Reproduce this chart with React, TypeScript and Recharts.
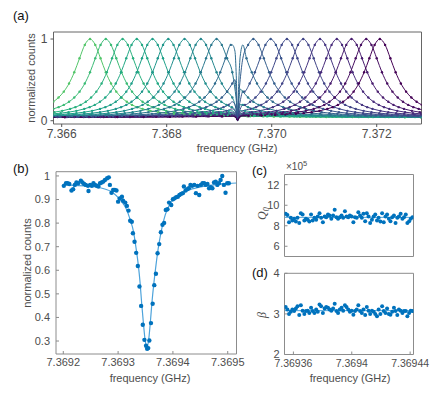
import React from 'react';
import { ComposedChart, Line, Scatter, XAxis, YAxis, ReferenceArea } from 'recharts';

const FONT = '"Liberation Sans", Arial, sans-serif';
const TICK = '#4d4d4d';
const FRAME = '#8c8c8c';
const BLUE = '#0072BD';
const FIT = '#4da3db';

// (a) frequency sweep, x in MHz above 7.366 GHz
const peakCenters = [0.54, 0.84, 1.16, 1.43, 1.73, 2.03, 2.34, 2.65, 2.95, 3.32, 3.65, 3.98, 4.29, 4.6, 4.92, 5.24, 5.52, 5.8, 6.06];
const peakColors = [
  '#52c569', '#3bbb75', '#2ab07f', '#22a884', '#1fa088', '#1f968b', '#218e8d', '#24868e', '#2a788e', '#2f6c8e',
  '#355f8d', '#3a548c', '#3f4889', '#414487', '#453581', '#472a7a', '#481c6e', '#470e61', '#440154',
];
const profileOffsets = [
  -7, -6, -5, -4.5, -4, -3.5, -3, -2.75, -2.5, -2.25, -2, -1.8, -1.6, -1.45, -1.3, -1.15, -1, -0.9, -0.8, -0.7, -0.6, -0.5, -0.4, -0.3, -0.2, -0.1,
  0, 0.1, 0.2, 0.3, 0.4, 0.5, 0.6, 0.7, 0.8, 0.9, 1, 1.15, 1.3, 1.45, 1.6, 1.8, 2, 2.25, 2.5, 2.75, 3, 3.5, 4, 4.5, 5, 6, 7,
];
const profileCounts = [
  0.042, 0.043, 0.045, 0.046, 0.047, 0.05, 0.053, 0.055, 0.058, 0.063, 0.069, 0.075, 0.084, 0.093, 0.105, 0.121, 0.145, 0.166, 0.194, 0.232, 0.284, 0.356, 0.456, 0.593, 0.764, 0.928,
  1, 0.928, 0.764, 0.593, 0.456, 0.356, 0.284, 0.232, 0.194, 0.166, 0.145, 0.121, 0.105, 0.093, 0.084, 0.075, 0.069, 0.063, 0.058, 0.055, 0.053, 0.05, 0.047, 0.046, 0.045, 0.043, 0.042,
];
const dipCenter = 3.35;
const dipOffsets = [-0.1, -0.05, -0.025, 0, 0.025, 0.05, 0.1];
const dipFactors = [1, 0.85, 0.55, 0.04, 0.55, 0.85, 1];
const aTicks = [0, 2, 4, 6];

// (b) single dip, x in kHz above 7.3692 GHz
const bFreq = [1, 5, 8, 11, 15, 18, 21, 24, 27, 32, 35, 38, 41, 45, 46, 49, 52, 55, 58, 61, 64, 67, 70, 73, 76, 80, 83, 85, 88, 91, 94, 97, 100, 103, 107, 109, 113, 116, 119, 122, 125, 127, 130, 133, 136, 139, 142, 145, 148, 151, 153, 155, 157, 160, 163, 166, 169, 172, 175, 178, 181, 184, 187, 190, 193, 197, 200, 203, 206, 209, 212, 215, 218, 220, 223, 226, 229, 232, 235, 239, 242, 245, 248, 251, 254, 257, 260, 263, 266, 269, 272, 275, 278, 281, 284, 287, 290, 293, 296, 299, 302];
const bCounts = [0.958, 0.969, 0.969, 0.966, 0.938, 0.944, 0.962, 0.972, 0.969, 0.98, 0.972, 0.966, 0.962, 0.958, 0.936, 0.962, 0.958, 0.969, 0.962, 0.958, 0.955, 0.969, 0.972, 0.976, 0.983, 0.99, 0.994, 0.962, 0.929, 0.941, 0.941, 0.938, 0.891, 0.905, 0.912, 0.895, 0.887, 0.873, 0.853, 0.81, 0.806, 0.757, 0.721, 0.674, 0.618, 0.531, 0.449, 0.369, 0.305, 0.28, 0.267, 0.27, 0.302, 0.376, 0.458, 0.537, 0.585, 0.672, 0.711, 0.761, 0.793, 0.801, 0.856, 0.859, 0.887, 0.877, 0.901, 0.905, 0.91, 0.912, 0.919, 0.924, 0.927, 0.955, 0.938, 0.944, 0.948, 0.962, 0.958, 0.962, 0.927, 0.958, 0.919, 0.962, 0.969, 0.969, 0.962, 0.966, 0.948, 0.952, 0.948, 0.972, 0.976, 0.962, 0.969, 0.983, 1.0, 0.962, 0.929, 0.969, 0.969];
const bFitFreq = [0, 20, 60, 90, 105, 115, 122, 128, 133, 137, 140, 143, 146, 149, 152.5, 156, 159, 162, 165, 169, 173, 177, 181, 186, 193, 203, 215, 235, 260, 290, 316];
const bFitCounts = [0.962, 0.96, 0.953, 0.93, 0.895, 0.86, 0.815, 0.765, 0.69, 0.62, 0.55, 0.46, 0.38, 0.31, 0.272, 0.31, 0.385, 0.47, 0.54, 0.62, 0.69, 0.745, 0.79, 0.835, 0.875, 0.905, 0.925, 0.945, 0.958, 0.966, 0.97];
const bTicks = [0, 100, 200, 300];
const bYTicks = [0.3, 0.4, 0.5, 0.6, 0.7, 0.8, 0.9, 1];

// (c),(d) fitted parameters, x in kHz above 7.3693 GHz
const cdFreq = [
  54.7, 55.9, 57.0, 58.2, 59.3, 60.5, 61.7, 62.8, 64.0, 65.1,
  66.3, 67.5, 68.6, 69.8, 70.9, 72.1, 73.2, 74.4, 75.6, 76.7,
  77.9, 79.0, 80.2, 81.4, 82.5, 83.7, 84.8, 86.0, 87.2, 88.3,
  89.5, 90.6, 91.8, 93.0, 94.1, 95.3, 96.4, 97.6, 98.7, 99.9,
  101.1, 102.2, 103.4, 104.5, 105.7, 106.9, 108.0, 109.2, 110.3, 111.5,
  112.6, 113.8, 115.0, 116.1, 117.3, 118.4, 119.6, 120.8, 121.9, 123.1,
  124.2, 125.4, 126.5, 127.7, 128.9, 130.0, 131.2, 132.3, 133.5, 134.7,
  135.8, 137.0, 138.1, 139.3, 140.4, 141.6,
];
const q0Values = [
  9.16, 9.06, 8.35, 8.77, 8.52, 8.68, 8.42, 8.77, 8.26, 9.23,
  9.1, 8.52, 8.68, 8.58, 8.42, 9.1, 8.52, 8.77, 8.58, 8.9,
  9.23, 8.77, 8.35, 8.9, 8.84, 9.1, 9.0, 8.68, 9.0, 9.55,
  8.84, 8.68, 8.84, 9.0, 8.77, 9.42, 8.9, 8.84, 9.0, 8.9,
  8.35, 8.84, 8.77, 9.32, 9.0, 8.77, 9.16, 8.45, 9.23, 8.9,
  8.26, 8.58, 8.9, 9.1, 8.52, 8.77, 8.42, 9.23, 8.35, 8.9,
  9.1, 8.68, 8.45, 8.84, 9.0, 8.26, 8.77, 8.9, 9.16, 8.68,
  8.84, 9.1, 8.26, 8.45, 8.68, 8.84,
];
const betaValues = [
  3.17, 3.11, 3.0, 3.05, 3.11, 3.07, 3.13, 3.19, 2.97, 3.21,
  3.08, 3.0, 3.07, 3.08, 3.02, 3.15, 3.07, 3.02, 3.11, 3.05,
  3.23, 3.19, 3.02, 3.13, 3.17, 3.15, 3.11, 3.08, 3.13, 3.25,
  3.07, 3.02, 3.11, 3.15, 3.08, 3.21, 3.17, 3.11, 3.05, 3.08,
  2.98, 3.07, 3.11, 3.21, 3.07, 3.02, 3.11, 2.97, 3.17, 3.08,
  3.0, 3.08, 3.05, 3.0, 2.94, 3.11, 3.0, 3.19, 3.07, 3.02,
  3.13, 3.0, 2.98, 3.05, 3.15, 3.07, 2.97, 3.11, 3.08, 3.02,
  3.07, 3.07, 2.94, 3.02, 3.08, 3.07,
];
const q0Fit = 8.82;
const betaFit = 3.08;
const cdTicks = [60, 100, 140];
const cdTickLabels = ['7.36936', '7.3694', '7.36944'];
const q0Ticks = [6, 8, 10, 12];
const betaTicks = [2, 3, 4];

const nearestProfile = (o: number) => {
  let best = 0;
  profileOffsets.forEach((p, i) => {
    if (Math.abs(p - o) < Math.abs(profileOffsets[best] - o)) best = i;
  });
  return profileCounts[best];
};

const sweepCurves = peakCenters.map((c) => {
  const pts: { x: number; y: number; dip?: boolean }[] = profileOffsets
    .map((o, i) => ({ x: c + o, y: profileCounts[i] }))
    .filter((p) => Math.abs(p.x - dipCenter) > 0.1);
  dipOffsets.forEach((d, i) => {
    pts.push({ x: dipCenter + d, y: nearestProfile(dipCenter + d - c) * dipFactors[i], dip: true });
  });
  return pts.sort((a, b) => a.x - b.x);
});

const bDots = bFreq.map((x, i) => ({ x, y: bCounts[i] }));
const bFit = bFitFreq.map((x, i) => ({ x, y: bFitCounts[i] }));
const q0Dots = cdFreq.map((x, i) => ({ x, y: q0Values[i] }));
const betaDots = cdFreq.map((x, i) => ({ x, y: betaValues[i] }));
const cdDomain = [53.9, 142.3];
const q0Line = cdDomain.map((x) => ({ x, y: q0Fit }));
const betaLine = cdDomain.map((x) => ({ x, y: betaFit }));

const tickStyle = { fill: TICK, fontSize: 11, fontFamily: FONT };
const dot = (r: number) => (p: any) => <circle cx={p.cx} cy={p.cy} r={r} fill={BLUE} />;
const sweepDot = (color: string) => (p: any) =>
  p.payload && p.payload.dip ? <g key={p.key} /> : <circle key={p.key} cx={p.cx} cy={p.cy} r={1.2} fill={color} />;
const abs: React.CSSProperties = { position: 'absolute', left: 0, top: 0 };

// extra axes that only carry inward ticks on the top and right edges
const mirrorAxes = (xDomain: number[], xTicks: number[], yDomain: number[], yTicks: number[]) => [
  <XAxis key="xt" xAxisId="top" orientation="top" type="number" domain={xDomain} ticks={xTicks} height={0}
    tick={false} tickSize={-3} axisLine={false} tickLine={{ stroke: FRAME }} allowDataOverflow />,
  <YAxis key="yr" yAxisId="right" orientation="right" type="number" domain={yDomain} ticks={yTicks} width={0}
    tick={false} tickSize={-3} axisLine={false} tickLine={{ stroke: FRAME }} allowDataOverflow />,
];

export default function App() {
  return (
    <div style={{ position: 'absolute', left: 0, top: 0, width: 436, height: 394, background: '#fff', fontFamily: FONT }}>
      {/* (a) */}
      <div style={abs}>
        <ComposedChart width={436} height={394} margin={{ top: 32, right: 14.5, bottom: 240, left: 33.5 }}>
          <XAxis type="number" dataKey="x" domain={[-0.156, 6.853]} ticks={aTicks} allowDataOverflow height={30}
            tickFormatter={(v: number) => (7.366 + v / 1000).toFixed(3)} tick={{ ...tickStyle, fontSize: 12 }}
            tickSize={3} tickMargin={2} axisLine={false} tickLine={{ stroke: '#555' }} />
          <YAxis type="number" dataKey="y" domain={[-0.04, 1.086]} ticks={[0, 1]} allowDataOverflow width={20}
            tick={{ ...tickStyle, fontSize: 12 }} tickSize={3} tickMargin={3} axisLine={false} tickLine={{ stroke: '#555' }} />
          <ReferenceArea x1={-0.156} x2={6.853} y1={-0.04} y2={1.086} fill="none" stroke="#666" strokeWidth={1} />
          {sweepCurves.map((pts, i) => (
            <Line key={i} data={pts} dataKey="y" type="monotone" stroke={peakColors[i]} strokeWidth={1}
              dot={sweepDot(peakColors[i])} activeDot={false} isAnimationActive={false} />
          ))}
        </ComposedChart>
      </div>

      {/* (b) */}
      <div style={abs}>
        <ComposedChart width={436} height={394} margin={{ top: 171.7, right: 199.5, bottom: 15, left: 31 }}>
          <XAxis type="number" dataKey="x" domain={[-13.3, 316]} ticks={bTicks} allowDataOverflow height={25}
            tickFormatter={(v: number) => (7.3692 + v / 1e6).toFixed(4)} tick={tickStyle}
            tickSize={-3} tickMargin={7} axisLine={false} tickLine={{ stroke: FRAME }} />
          <YAxis type="number" dataKey="y" domain={[0.245, 1.018]} ticks={bYTicks} allowDataOverflow width={25}
            tickFormatter={(v: number) => (v === 1 ? '1' : v.toFixed(1))} tick={tickStyle}
            tickSize={-3} tickMargin={9} axisLine={false} tickLine={{ stroke: FRAME }} />
          {mirrorAxes([-13.3, 316], bTicks, [0.245, 1.018], bYTicks)}
          <ReferenceArea x1={-13.3} x2={316} y1={0.245} y2={1.018} fill="none" stroke={FRAME} />
          <Line data={bFit} dataKey="y" type="monotone" stroke={FIT} strokeWidth={1.2} dot={false} activeDot={false} isAnimationActive={false} />
          <Scatter data={bDots} dataKey="y" shape={dot(2.2)} isAnimationActive={false} />
        </ComposedChart>
      </div>

      {/* (c) */}
      <div style={abs}>
        <ComposedChart width={436} height={394} margin={{ top: 174.5, right: 22.5, bottom: 137.5, left: 264.5 }}>
          <XAxis type="number" dataKey="x" domain={cdDomain} ticks={cdTicks} allowDataOverflow height={0}
            tick={false} tickSize={-3} axisLine={false} tickLine={{ stroke: FRAME }} />
          <YAxis type="number" dataKey="y" domain={[5, 13]} ticks={q0Ticks} allowDataOverflow width={20}
            tick={tickStyle} tickSize={-3} tickMargin={8} axisLine={false} tickLine={{ stroke: FRAME }} />
          {mirrorAxes(cdDomain, cdTicks, [5, 13], q0Ticks)}
          <ReferenceArea x1={cdDomain[0]} x2={cdDomain[1]} y1={5} y2={13} fill="none" stroke={FRAME} />
          <Line data={q0Line} dataKey="y" stroke={FIT} strokeWidth={1} dot={false} activeDot={false} isAnimationActive={false} />
          <Scatter data={q0Dots} dataKey="y" shape={dot(2)} isAnimationActive={false} />
        </ComposedChart>
      </div>

      {/* (d) */}
      <div style={abs}>
        <ComposedChart width={436} height={394} margin={{ top: 273.3, right: 22.5, bottom: 14.5, left: 264.5 }}>
          <XAxis type="number" dataKey="x" domain={cdDomain} ticks={cdTicks} allowDataOverflow height={25}
            tickFormatter={(v: number) => cdTickLabels[cdTicks.indexOf(v)]} tick={{ ...tickStyle, fontSize: 10.5 }}
            tickSize={-3} tickMargin={8} axisLine={false} tickLine={{ stroke: FRAME }} />
          <YAxis type="number" dataKey="y" domain={[2, 4]} ticks={betaTicks} allowDataOverflow width={20}
            tick={tickStyle} tickSize={-3} tickMargin={8} axisLine={false} tickLine={{ stroke: FRAME }} />
          {mirrorAxes(cdDomain, cdTicks, [2, 4], betaTicks)}
          <ReferenceArea x1={cdDomain[0]} x2={cdDomain[1]} y1={2} y2={4} fill="none" stroke={FRAME} />
          <Line data={betaLine} dataKey="y" stroke={FIT} strokeWidth={1} dot={false} activeDot={false} isAnimationActive={false} />
          <Scatter data={betaDots} dataKey="y" shape={dot(2)} isAnimationActive={false} />
        </ComposedChart>
      </div>

      {/* titles and panel letters */}
      <svg width={436} height={394} style={{ ...abs, pointerEvents: 'none' }} fontFamily={FONT}>
        <g fontSize={13} fill="#111">
          <text x={13} y={20}>(a)</text>
          <text x={13} y={173}>(b)</text>
          <text x={252} y={175}>(c)</text>
          <text x={252} y={277}>(d)</text>
        </g>
        <g fontSize={11} fill={TICK} textAnchor="middle">
          <text x={237} y={152}>frequency (GHz)</text>
          <text transform="translate(35,78) rotate(-90)">normalized counts</text>
          <text x={150} y={382}>frequency (GHz)</text>
          <text transform="translate(31,263) rotate(-90)">normalized counts</text>
          <text x={350} y={382}>frequency (GHz)</text>
        </g>
        <text x={286} y={170} fontSize={10} fill={TICK}>
          ×10<tspan dy={-4} fontSize={7.5}>5</tspan>
        </text>
        <g fontFamily='"Liberation Serif", serif' fontStyle="italic" fontSize={12} fill={TICK}>
          <text transform="translate(266,220) rotate(-90)">
            Q<tspan dy={3} fontSize={8}>0</tspan>
          </text>
          <text transform="translate(266,318) rotate(-90)">β</text>
        </g>
      </svg>
    </div>
  );
}
